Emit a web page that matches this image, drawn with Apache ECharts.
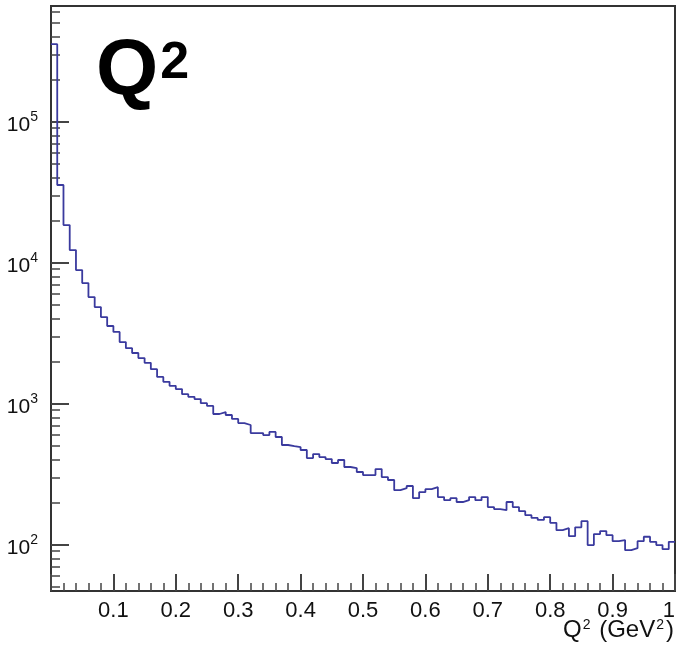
<!DOCTYPE html>
<html>
<head>
<meta charset="utf-8">
<script src="https://cdn.jsdelivr.net/npm/echarts@6/dist/echarts.min.js"></script>
<style>
html,body{margin:0;padding:0;background:#fff}
#main{width:677px;height:646px}
</style>
</head>
<body>
<div id="main"></div>
<script>
// histogram: 100 bins of 0.01 GeV^2 from 0 to 1
var binLow = 0;
var binWidth = 0.01;
var counts = [
	355000, 35600, 18500, 12300, 8870, 7180, 5710, 4850, 4120, 3560,
	3230, 2740, 2480, 2290, 2110, 1950, 1760, 1550, 1430, 1340,
	1270, 1170, 1120, 1080, 1010, 965, 846, 873, 832, 780,
	730, 707, 620, 620, 600, 631, 581, 510, 501, 493,
	470, 412, 440, 419, 405, 380, 399, 356, 350, 328,
	312, 312, 344, 302, 288, 244, 252, 261, 214, 236,
	248, 256, 218, 207, 214, 201, 207, 218, 207, 218,
	185, 179, 176, 201, 185, 173, 162, 155, 150, 157,
	143, 127, 131, 115, 133, 147, 99.5, 119, 125, 117,
	106, 108, 91.6, 94.6, 106, 114, 105, 99.5, 93.1, 105
];
var yMin = 47, yMax = 662000;        // log axis range
var yDecades = [2, 3, 4, 5];         // labelled powers of ten
var xMin = 0, xMax = 1, xStep = 0.1;

var logMin = Math.log10(yMin), logMax = Math.log10(yMax);

// step points at the left edge of every bin, plus the right edge of the last one
var points = [];
for (var i = 0; i < counts.length; i++) {
	points.push([binLow + i * binWidth, Math.log10(counts[i])]);
}
points.push([binLow + counts.length * binWidth, Math.log10(counts[counts.length - 1])]);

// minor ticks at 2..9 x 10^n
var minorTicks = [];
for (var n = 1; n <= 5; n++) {
	for (var k = 2; k <= 9; k++) {
		var v = Math.log10(k * Math.pow(10, n));
		if (v > logMin && v < logMax) minorTicks.push(v);
	}
}

var chart = echarts.init(document.getElementById('main'));
var frame = '#333';
var font = 'Liberation Sans';
var option = {
	animation: false,
	backgroundColor: '#fff',
	grid: {
		left: 51, right: 2, top: 6, bottom: 55,
		outerBoundsMode: 'none',
		containLabel: false,
		show: true,
		borderColor: frame,
		borderWidth: 2,
		backgroundColor: 'transparent'
	},
	xAxis: {
		type: 'value',
		min: xMin, max: xMax, interval: xStep,
		axisLine: {onZero: false, lineStyle: {color: frame, width: 2}},
		axisTick: {inside: true, length: 17, lineStyle: {color: '#444', width: 2}},
		minorTick: {show: true, splitNumber: 5, length: 8, lineStyle: {color: '#444', width: 1.5}},
		splitLine: {show: false},
		axisLabel: {
			showMinLabel: false,
			hideOverlap: false,
			alignMaxLabel: 'right',
			margin: 9,
			fontFamily: font,
			fontSize: 22,
			color: '#111',
			formatter: function (v) { return String(+v.toFixed(1)); }
		}
	},
	yAxis: [{
		type: 'value',
		min: logMin, max: logMax,
		axisLine: {show: true, onZero: false, lineStyle: {color: frame, width: 2}},
		axisTick: {inside: true, length: 18, customValues: yDecades, lineStyle: {color: '#444', width: 2}},
		splitLine: {show: false},
		axisLabel: {
			customValues: yDecades,
			margin: 13,
			formatter: function (v) { return '{b|10}{s|' + Math.round(v) + '}'; },
			rich: {
				b: {fontFamily: font, fontSize: 21, lineHeight: 24, padding: [6, 0, 0, 0], color: '#111'},
				s: {fontFamily: font, fontSize: 14, lineHeight: 14, verticalAlign: 'top', color: '#111'}
			}
		}
	}, {
		type: 'value',
		position: 'left',
		min: logMin, max: logMax,
		axisLine: {show: false},
		axisTick: {show: true, inside: true, length: 9, customValues: minorTicks, lineStyle: {color: '#444', width: 1.5}},
		axisLabel: {show: false},
		splitLine: {show: false}
	}],
	series: [{
		type: 'line',
		step: 'end',
		data: points,
		showSymbol: false,
		symbol: 'none',
		lineStyle: {color: '#3a3a9e', width: 1.8}
	}],
	graphic: [{
		type: 'text',
		left: 96, top: 32,
		style: {
			text: '{q|Q}{s|2}',
			rich: {
				q: {fontFamily: font, fontWeight: 'bold', fontSize: 80, lineHeight: 80, fill: '#000'},
				s: {fontFamily: font, fontWeight: 'bold', fontSize: 52, lineHeight: 52, verticalAlign: 'top', padding: [6, 0, 0, 2], fill: '#000'}
			}
		}
	}, {
		type: 'text',
		right: 3, top: 618,
		style: {
			text: '{n|Q}{s|2}{n| (GeV}{s|2}{n|)}',
			rich: {
				n: {fontFamily: font, fontSize: 24, lineHeight: 24, fill: '#111'},
				s: {fontFamily: font, fontSize: 14, lineHeight: 14, verticalAlign: 'top', padding: [0, 2, 0, 1], fill: '#111'}
			}
		}
	}]
};
chart.setOption(option);
</script>
</body>
</html>
